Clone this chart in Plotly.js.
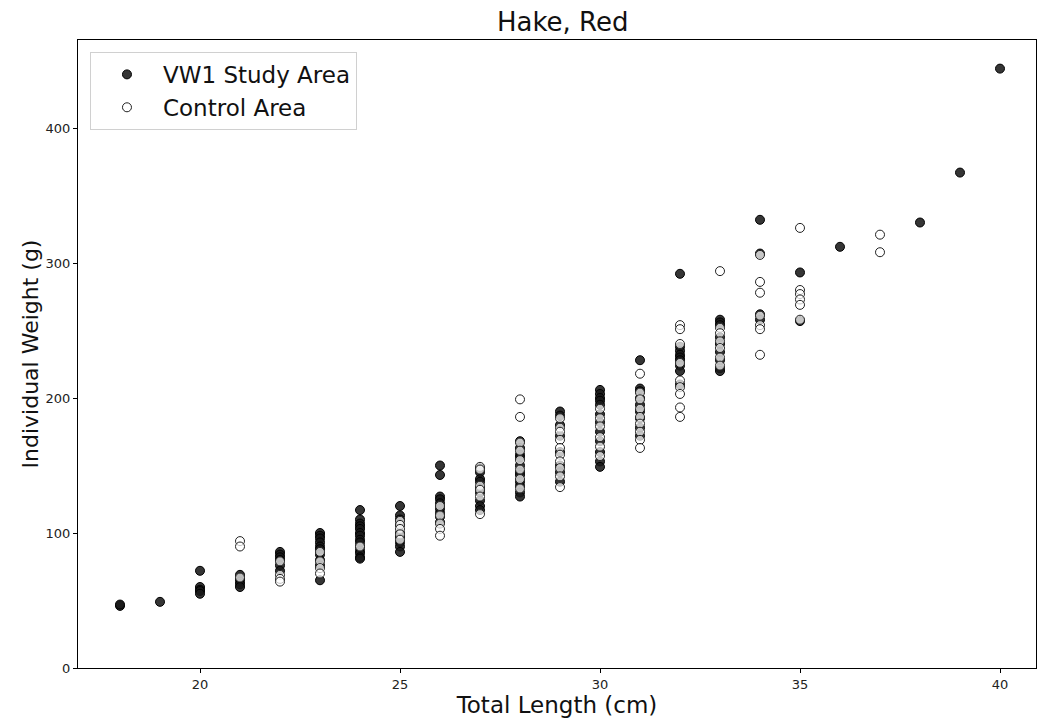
<!DOCTYPE html>
<html>
<head>
<meta charset="utf-8">
<script src="https://cdn.plot.ly/plotly-3.0.1.min.js"></script>
<style>html,body{margin:0;padding:0;background:#fff;}#chart{width:1037px;height:723px;}</style>
</head>
<body>
<div id="chart"></div>
<script>
// VW1 Study Area: total length (cm) and individual weight (g)
const vwLength = [
  18,18,
  19,
  20,20,20,20,20,
  21,21,21,21,21,
  22,22,22,22,22,22,
  23,23,23,23,23,23,23,23,23,23,
  24,24,24,24,24,24,24,24,24,24,24,24,24,24,
  25,25,25,25,25,25,25,25,25,
  26,26,26,26,26,26,26,26,26,
  27,27,27,27,27,27,27,27,27,
  28,28,28,28,28,28,28,28,28,28,28,
  29,29,29,29,29,29,29,29,
  30,30,30,30,30,30,30,30,30,30,30,30,
  31,31,31,31,31,31,31,31,31,
  32,32,32,32,32,32,32,32,32,
  33,33,33,33,33,33,33,33,33,
  34,34,34,34,
  35,35,
  36,
  38,
  39,
  40
];
const vwWeight = [
  46,47,
  49,
  72,60,58,57,55,
  69,66,64,62,60,
  86,84,82,80,76,72,
  100,98,96,93,90,88,84,80,76,65,
  117,110,107,105,103,100,98,95,93,90,87,85,82,81,
  120,113,110,106,100,97,93,90,86,
  150,143,127,125,122,118,115,112,108,
  148,145,140,138,133,130,124,120,117,
  168,163,158,156,150,145,143,138,135,130,127,
  190,187,180,172,160,150,145,138,
  206,203,200,198,195,188,182,175,168,160,153,149,
  228,207,205,200,195,190,185,178,172,
  292,238,235,232,230,228,224,220,210,
  258,256,254,245,240,234,228,222,220,
  332,307,262,258,
  293,257,
  312,
  330,
  367,
  444
];
// Control Area
const ctlLength = [
  21,21,21,
  22,22,22,22,
  23,23,23,23,
  24,
  25,25,25,25,25,
  26,26,26,26,26,
  27,27,27,27,27,27,
  28,28,28,28,28,28,28,28,
  29,29,29,29,29,29,29,29,29,29,
  30,30,30,30,30,30,
  31,31,31,31,31,31,31,31,31,
  32,32,32,32,32,32,32,32,32,
  33,33,33,33,33,33,33,
  34,34,34,34,34,34,34,
  35,35,35,35,35,35,
  37,37
];
const ctlWeight = [
  94,90,67,
  79,69,66,64,
  86,79,74,70,
  90,
  109,106,103,99,95,
  120,113,107,103,98,
  149,147,135,132,127,114,
  199,186,167,161,154,147,140,133,
  185,178,175,169,163,158,153,148,142,134,
  192,185,179,171,164,157,
  218,204,199,192,186,181,175,169,163,
  254,251,240,226,213,208,203,193,186,
  294,252,248,242,237,230,224,
  306,286,278,261,254,251,232,
  326,280,277,273,269,258,
  321,308
];
const xTicks = [20, 25, 30, 35, 40];
const yTicks = [0, 100, 200, 300, 400];

const traces = [
  {
    type: 'scatter', mode: 'markers', name: 'VW1 Study Area',
    x: vwLength, y: vwWeight,
    marker: {size: 9, color: 'rgba(25,25,25,0.88)', line: {color: '#000', width: 1}}
  },
  {
    type: 'scatter', mode: 'markers', name: 'Control Area',
    x: ctlLength, y: ctlWeight,
    marker: {size: 9, color: 'rgba(255,255,255,0.72)', line: {color: '#222', width: 1}}
  }
];

const layout = {
  width: 1037, height: 723,
  margin: {l: 78, r: 1, t: 40, b: 55},
  paper_bgcolor: '#fff', plot_bgcolor: '#fff',
  font: {family: 'DejaVu Sans, sans-serif', color: '#000'},
  title: {text: 'Hake, Red', font: {size: 26, color: '#111'}, xref: 'paper', x: 0.506, xanchor: 'center', y: 0.97, yanchor: 'middle'},
  showlegend: true,
  legend: {
    x: 0.0125, y: 0.981, xanchor: 'left', yanchor: 'top',
    bgcolor: '#fff', bordercolor: '#d0d0d0', borderwidth: 1,
    font: {size: 23, color: '#111'}, itemwidth: 62, tracegroupgap: 0
  },
  xaxis: {
    range: [16.95, 40.9], tickvals: xTicks, ticktext: xTicks.map(String),
    showgrid: false, zeroline: false, showline: true, mirror: true,
    linecolor: '#000', linewidth: 1, ticks: 'outside', ticklen: 4, tickcolor: '#000',
    tickfont: {size: 13, color: '#222'},
    title: {text: 'Total Length (cm)', font: {size: 23, color: '#111'}, standoff: 4}
  },
  yaxis: {
    range: [0, 465.2], tickvals: yTicks, ticktext: yTicks.map(String),
    showgrid: false, zeroline: false, showline: true, mirror: true,
    linecolor: '#000', linewidth: 1, ticks: 'outside', ticklen: 4, tickcolor: '#000',
    tickfont: {size: 13, color: '#222'},
    title: {text: 'Individual Weight (g)', font: {size: 22, color: '#111'}, standoff: 0}
  }
};

Plotly.newPlot('chart', traces, layout, {displayModeBar: false, staticPlot: true});
</script>
</body>
</html>
